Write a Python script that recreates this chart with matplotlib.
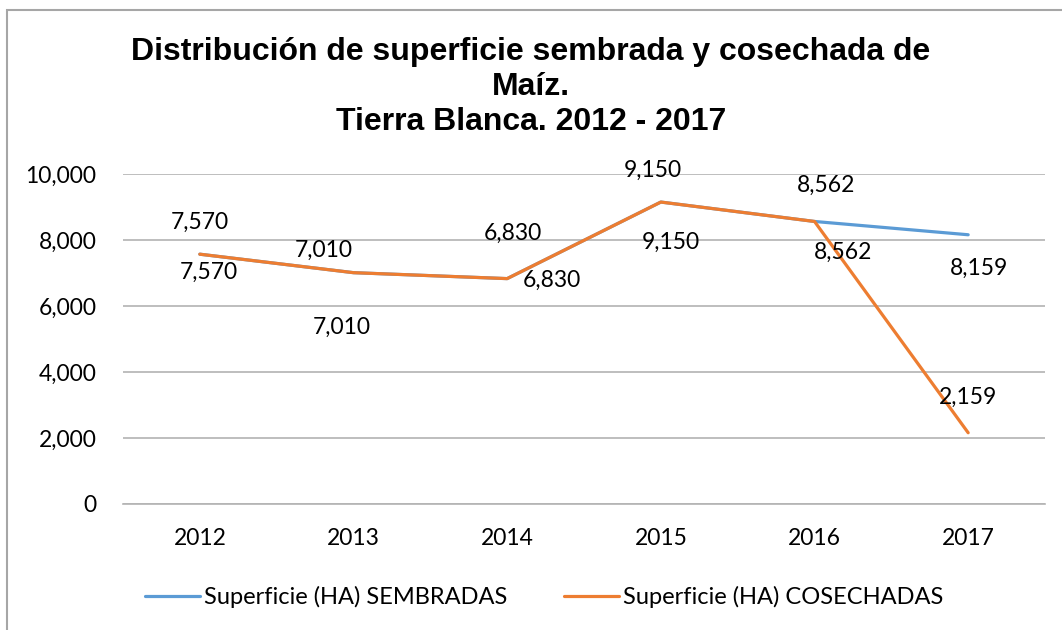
import matplotlib.pyplot as plt
from matplotlib.patches import Rectangle
from matplotlib.ticker import FuncFormatter

# data
years = ["2012", "2013", "2014", "2015", "2016", "2017"]
sembradas = [7570, 7010, 6830, 9150, 8562, 8159]
cosechadas = [7570, 7010, 6830, 9150, 8562, 2159]

# label offsets in pixels (dx, dy) relative to each point, as placed in the original
off_sembradas = [(9, -18), (-12, -55), (45, -2), (10, -40), (29, -31), (11, -34)]
off_cosechadas = [(0, 32), (-30, 22), (6, 45), (-8, 32), (12, 36), (0, 35)]

blue = "#5b9bd5"
orange = "#ed7d31"
body_font = "Lato"
fs = 16.5

fig = plt.figure(figsize=(10.62, 6.3), dpi=100)
ax = fig.add_axes([0.1158, 0.2, 0.8682, 0.5238])

x = list(range(len(years)))
ax.plot(x, sembradas, color=blue, lw=2.3, solid_capstyle="round",
        label="Superficie (HA) SEMBRADAS", zorder=3)
ax.plot(x, cosechadas, color=orange, lw=2.3, solid_capstyle="round",
        label="Superficie (HA) COSECHADAS", zorder=4)

for xi, v, (dx, dy) in zip(x, sembradas, off_sembradas):
    ax.annotate(f"{v:,}", (xi, v), xytext=(dx, dy), textcoords="offset pixels",
                ha="center", va="center", fontsize=fs, family=body_font, zorder=5)
for xi, v, (dx, dy) in zip(x, cosechadas, off_cosechadas):
    ax.annotate(f"{v:,}", (xi, v), xytext=(dx, dy), textcoords="offset pixels",
                ha="center", va="center", fontsize=fs, family=body_font, zorder=5)

ax.set_xlim(-0.5, 5.5)
ax.set_ylim(0, 10000)
ax.set_yticks(range(0, 10001, 2000))
ax.yaxis.set_major_formatter(FuncFormatter(lambda v, p: f"{int(v):,}"))
ax.set_xticks(x)
ax.set_xticklabels(years)
ax.grid(axis="y", color="#b3b3b3", lw=1.2)
ax.set_axisbelow(True)
for s in ["top", "right", "left"]:
    ax.spines[s].set_visible(False)
ax.spines["bottom"].set_color("#b3b3b3")
ax.spines["bottom"].set_linewidth(1.2)
ax.tick_params(length=0, labelsize=fs)
for lab in ax.get_xticklabels() + ax.get_yticklabels():
    lab.set_family(body_font)
ax.tick_params(axis="y", pad=19)
ax.tick_params(axis="x", pad=17)

fig.text(0.5, 1 - 87 / 630,
         "Distribución de superficie sembrada y cosechada de\nMaíz.\nTierra Blanca. 2012 - 2017",
         ha="center", va="center", fontsize=23, fontweight="bold",
         family="Liberation Sans", linespacing=1.2)

fig.legend(loc="center", bbox_to_anchor=(0.512, 1 - 597 / 630), ncol=2,
           frameon=False, handlelength=2.33, handletextpad=0.17,
           columnspacing=2.4, prop={"family": body_font, "size": 17})

# chart area border
fig.patches.append(Rectangle((7 / 1062, -0.01), 1.1, 1 - 10 / 630 + 0.01,
                             transform=fig.transFigure, fill=False,
                             edgecolor="#a6a6a6", lw=1.5))

fig.savefig("out.png", dpi=100)
